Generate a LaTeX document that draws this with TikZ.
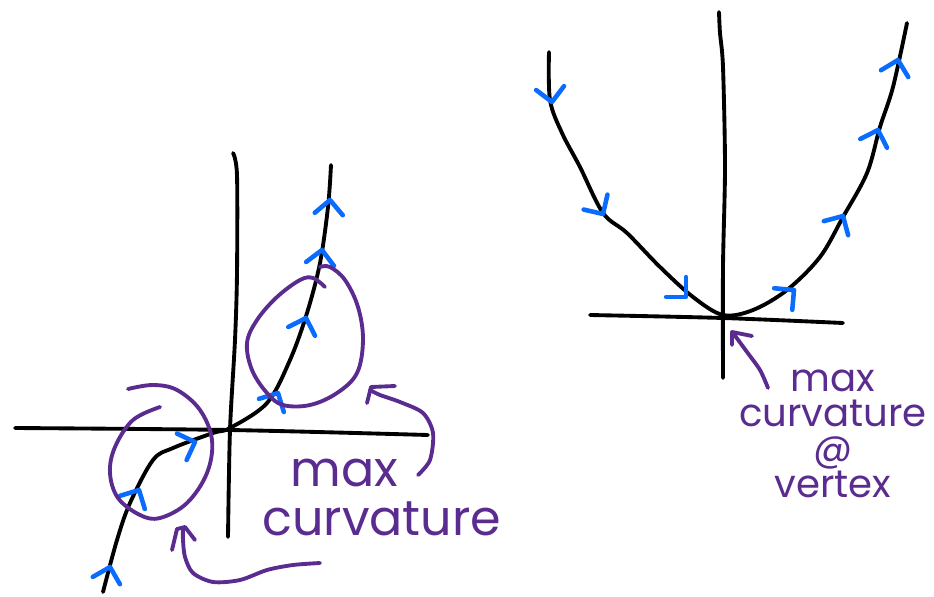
\documentclass[tikz,border=0pt]{standalone}
\usepackage{fontspec}
\setmainfont{Poppins}
\usepackage{tikz}
\definecolor{inkblack}{HTML}{000000}
\definecolor{inkblue}{HTML}{0A6CFF}
\definecolor{inkpurple}{HTML}{5B2C8F}
\tikzset{
  axis/.style={draw=inkblack,line width=2.2pt,line cap=round,line join=round},
  curve/.style={draw=inkblack,line width=2.2pt,line cap=round,line join=round},
  chevron/.style={draw=inkblue,line width=2.6pt,line cap=round,line join=round},
  loop/.style={draw=inkpurple,line width=2.2pt,line cap=round,line join=round},
  note/.style={text=inkpurple,inner sep=0pt},
  chev/.pic={\draw[chevron] (-8pt,8pt) -- (0,0) -- (-8pt,-8pt);}
}
\begin{document}
\begin{tikzpicture}[x=0.02cm,y=-0.02cm]
\useasboundingbox (0,0) rectangle (934,596);
% left picture: axes
\draw[axis] plot[smooth] coordinates {(15,428) (230,430) (428,435)};
\draw[axis] plot[smooth] coordinates {(233,153) (237,175) (237,273) (235,340) (230,430) (228,537)};
% left picture: curve
\draw[curve] plot[smooth,tension=0.55] coordinates {(103,592) (117,540) (130,503) (153,460) (173,448) (213,433) (230,428) (267,403) (290,360) (307,313) (320,263) (328,207) (331,165)};
\pic[rotate=75] at (110,567) {chev};
\pic[rotate=62] at (139,490) {chev};
\pic[rotate=20] at (195,442) {chev};
\pic[rotate=62] at (278,393) {chev};
\pic[rotate=72] at (306,318) {chev};
\pic[rotate=82] at (322,250) {chev};
\pic[rotate=85] at (330,200) {chev};
% left picture: circled regions
\draw[loop] plot[smooth,tension=0.6] coordinates {(160,407) (133,420) (115,447) (110,473) (118,498) (140,515) (160,518) (187,503) (207,473) (212,440) (200,410) (177,390) (153,385) (128,389)};
\draw[loop] plot[smooth,tension=0.6] coordinates {(325,287) (313,278) (300,280) (277,297) (257,320) (247,343) (252,370) (267,393) (283,405) (310,405) (337,393) (357,373) (363,340) (358,307) (345,280) (330,267) (320,267)};
% left picture: label and pointers
\node[note,align=left,anchor=base west,font=\fontsize{28}{27.5}\selectfont] (lnote) at (262,535) {\hspace*{16pt}max\\curvature};
\coordinate (ptrA) at (418,475);
\coordinate (ptrB) at (320,563);
\draw[loop] plot[smooth] coordinates {(ptrA) (430,460) (433,433) (423,413) (400,402) (380,395) (370,390)};
\draw[loop] (367,403) -- (371,387) -- (395,386);
\draw[loop] plot[smooth] coordinates {(ptrB) (293,565) (267,570) (240,580) (213,582) (193,573) (185,557) (183,540) (183,529)};
\draw[loop] (172,550) -- (177,529) -- (185,527) -- (195,540);
% right picture: axes
\draw[axis] plot[smooth] coordinates {(590,315) (723,318) (843,323)};
\draw[axis] plot[smooth] coordinates {(719,12) (720,33) (723,67) (725,167) (723,267) (723,378)};
% right picture: parabola
\draw[curve] plot[smooth,tension=0.55] coordinates {(549,52) (550,100) (562,133) (580,167) (603,213) (627,233) (660,267) (693,297) (723,315) (753,310) (787,290) (820,257) (843,217) (867,173) (880,127) (893,87) (907,23)};
\pic[rotate=-82] at (552,102) {chev};
\pic[rotate=-58] at (603,214) {chev};
\pic[rotate=-45] at (686,297) {chev};
\pic[rotate=40] at (794,290) {chev};
\pic[rotate=60] at (843,216) {chev};
\pic[rotate=72] at (878,130) {chev};
\pic[rotate=76] at (898,60) {chev};
% right picture: label and pointer
\node[note,align=center,anchor=base,font=\fontsize{22}{20}\selectfont] (rnote) at (833,497) {max\\curvature\\@\\vertex};
\coordinate (ptrC) at (768,388);
\draw[loop] plot[smooth] coordinates {(ptrC) (760,370) (747,352) (733,333)};
\draw[loop] (732,345) -- (732,332) -- (752,336);
\end{tikzpicture}
\end{document}
